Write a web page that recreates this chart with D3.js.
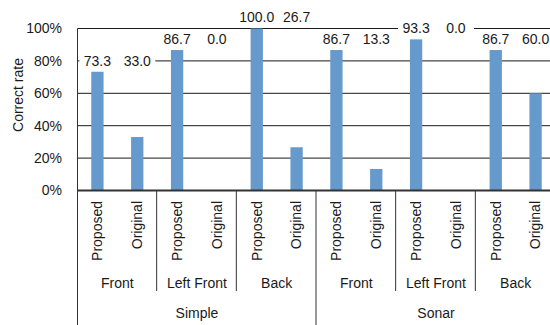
<html>
<head>
    <script src="https://d3js.org/d3.v7.min.js"></script>
    <style type="text/css">
        body { margin: 0; background: white; }
        text { font-family: "Liberation Sans", Arial, sans-serif; font-size: 14px; fill: #1a1a1a; }
        line.grid { stroke: #1a1a1a; stroke-width: 1; }
        line.sep { stroke: #333; stroke-width: 1; }
        rect.bar { fill: #6699cc; }
    </style>
</head>

<body>
    <svg></svg>

    <script>
        // chart data
        const supers = ["Simple", "Sonar"];
        const groups = ["Front", "Left Front", "Back", "Front", "Left Front", "Back"];
        const methods = ["Proposed", "Original"];
        const proposed = [73.3, 86.7, 100.0, 86.7, 93.3, 86.7];
        const original = [33.0, 0.0, 26.7, 13.3, 0.0, 60.0];
        const yTicks = [0, 20, 40, 60, 80, 100];

        const W = 550, H = 325;
        const plotLeft = 77.5, plotRight = 555.5, plotTop = 28.5, plotBase = 190.5;

        var svg = d3.select("svg").attr("width", W).attr("height", H);

        // one slot per bar
        var Bars = [];
        groups.forEach((g, i) => {
            Bars.push({ slot: i*2, group: i, method: methods[0], value: proposed[i] });
            Bars.push({ slot: i*2+1, group: i, method: methods[1], value: original[i] });
        });

        var x = d3.scaleBand().domain(d3.range(Bars.length)).range([plotLeft, plotRight]);
        var y = d3.scaleLinear().domain([0, 100]).range([plotBase, plotTop]);
        var bw = 12.3;
        var cx = (i) => x(i) + x.bandwidth()/2;

        // gridlines
        svg.selectAll("line.grid")
            .data(yTicks.filter((t) => t > 0))
            .enter().append("line").classed("grid", true)
                .attr("x1", plotLeft).attr("x2", W)
                .attr("y1", (d) => y(d)).attr("y2", (d) => y(d));

        // y tick labels
        svg.selectAll("text.ytick")
            .data(yTicks)
            .enter().append("text").classed("ytick", true)
                .attr("x", 62).attr("y", (d) => y(d)).attr("dy", "0.35em")
                .attr("text-anchor", "end")
                .text((d) => d + "%");

        svg.append("text")
            .attr("transform", "translate(23,95) rotate(-90)")
            .attr("text-anchor", "middle")
            .text("Correct rate");

        // bars
        svg.selectAll("rect.bar")
            .data(Bars)
            .enter().append("rect").classed("bar", true)
                .attr("x", (d) => cx(d.slot) - bw/2)
                .attr("width", bw)
                .attr("y", (d) => y(d.value))
                .attr("height", (d) => plotBase - y(d.value));

        // value labels, both labels of a pair at the height of the taller bar
        var labels = svg.append("g");
        groups.forEach((g, i) => {
            let ly = y(Math.max(proposed[i], original[i])) - 11;
            let a = cx(i*2), b = cx(i*2+1);
            labels.append("rect")
                .attr("x", a - 18).attr("width", b - a + 36)
                .attr("y", ly - 8).attr("height", 16)
                .attr("fill", "white");
            labels.append("text").attr("x", a).attr("y", ly).attr("dy", "0.35em")
                .attr("text-anchor", "middle").text(proposed[i].toFixed(1));
            labels.append("text").attr("x", b).attr("y", ly).attr("dy", "0.35em")
                .attr("text-anchor", "middle").text(original[i].toFixed(1));
        });

        // axis lines
        svg.append("line").classed("sep", true)
            .attr("x1", plotLeft).attr("x2", plotLeft).attr("y1", plotTop).attr("y2", H);
        svg.append("line")
            .attr("x1", plotLeft).attr("x2", W).attr("y1", plotBase).attr("y2", plotBase)
            .attr("stroke", "#333").attr("stroke-width", 2);

        // method labels
        svg.selectAll("text.method")
            .data(Bars)
            .enter().append("text").classed("method", true)
                .attr("transform", (d) => "translate(" + cx(d.slot) + ",201) rotate(-90)")
                .attr("dy", "0.35em")
                .attr("text-anchor", "end")
                .text((d) => d.method);

        // group labels and separators
        var gw = x.bandwidth()*2;
        svg.selectAll("text.group")
            .data(groups)
            .enter().append("text").classed("group", true)
                .attr("x", (d, i) => plotLeft + gw*(i + 0.5)).attr("y", 287.5)
                .attr("text-anchor", "middle")
                .text((d) => d);

        svg.selectAll("line.gsep")
            .data(d3.range(1, groups.length).filter((i) => i % 3 != 0))
            .enter().append("line").classed("sep", true)
                .attr("x1", (d) => plotLeft + gw*d - 0.5).attr("x2", (d) => plotLeft + gw*d - 0.5)
                .attr("y1", plotBase).attr("y2", 291);

        // top level labels and separators
        var sw = gw*3;
        svg.selectAll("text.super")
            .data(supers)
            .enter().append("text").classed("super", true)
                .attr("x", (d, i) => plotLeft + sw*(i + 0.5)).attr("y", 317.5)
                .attr("text-anchor", "middle")
                .text((d) => d);

        svg.selectAll("line.ssep")
            .data(d3.range(1, supers.length + 1))
            .enter().append("line").classed("sep", true)
                .attr("x1", (d) => plotLeft + sw*d - 0.5).attr("x2", (d) => plotLeft + sw*d - 0.5)
                .attr("y1", plotBase).attr("y2", H);
    </script>
</body>

</html>
